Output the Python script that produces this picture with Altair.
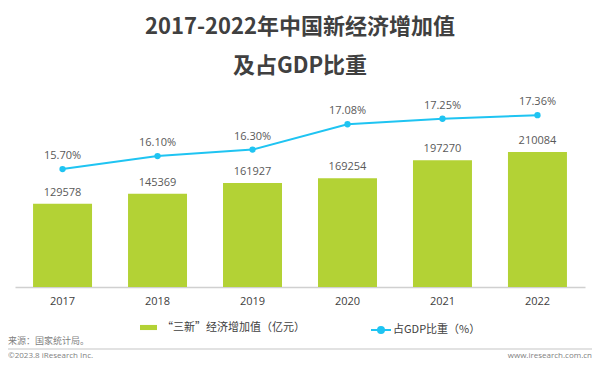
import altair as alt
import pandas as pd

years = ["2017", "2018", "2019", "2020", "2021", "2022"]
added_value = [129578, 145369, 161927, 169254, 197270, 210084]
gdp_share = [15.70, 16.10, 16.30, 17.08, 17.25, 17.36]

bar_name = "“三新”经济增加值（亿元）"
line_name = "占GDP比重（%）"
title_lines = ["2017-2022年中国新经济增加值", "及占GDP比重"]
source_text = "来源：国家统计局。"
footer_left = "©2023.8 iResearch Inc."
footer_right = "www.iresearch.com.cn"

GREEN = "#B3D235"
CYAN = "#1FC4F2"
FONT = "Noto Sans CJK SC"
NUMFONT = "Open Sans"

df = pd.DataFrame({
    "year": years,
    "value": added_value,
    "ratio": gdp_share,
    "bar_s": [bar_name] * len(years),
    "line_s": [line_name] * len(years),
})

x = alt.X("year:N", title=None, sort=years,
          scale=alt.Scale(paddingInner=0.379, paddingOuter=0.19),
          axis=alt.Axis(labelAngle=0, ticks=False, labelPadding=8, labelFontSize=11,
                        labelColor="#404040", labelFont=NUMFONT, domainColor="#D0D0D0",
                        domainWidth=1.5, grid=False))

base = alt.Chart(df)

y_bar = alt.Y("value:Q", axis=None, scale=alt.Scale(domain=[0, 299000], nice=False))
bars = base.mark_bar(color=GREEN).encode(
    x=x, y=y_bar,
    fill=alt.Fill("bar_s:N", scale=alt.Scale(domain=[bar_name], range=[GREEN]),
                  legend=alt.Legend(title=None, orient="none", legendX=125, legendY=224,
                                    symbolType="M-1,-0.3H1V0.3H-1Z", symbolSize=289,
                                    symbolStrokeWidth=0, labelFontSize=11, labelColor="#404040",
                                    labelFont=FONT, labelOffset=5, padding=0)),
)
bar_text = base.mark_text(dy=-11, fontSize=11, color="#595959", font=NUMFONT).encode(
    x=x, y=y_bar, text=alt.Text("value:Q", format="d"))

y_line = alt.Y("ratio:Q", axis=None, scale=alt.Scale(domain=[12.07, 17.98], zero=False, nice=False))
line = base.mark_line(strokeWidth=2).encode(
    x=x, y=y_line,
    stroke=alt.Stroke("line_s:N", scale=alt.Scale(domain=[line_name], range=[CYAN]),
                      legend=alt.Legend(title=None, orient="none", legendX=355, legendY=224,
                                        symbolType="M-1,0H1M-0.3,0A0.3,0.3,0,1,0,0.3,0A0.3,0.3,0,1,0,-0.3,0Z",
                                        symbolSize=400, symbolStrokeWidth=2,
                                        symbolFillColor=CYAN, symbolStrokeColor=CYAN,
                                        labelFontSize=11, labelColor="#404040",
                                        labelFont=FONT, labelOffset=1, padding=0)),
)
points = base.mark_circle(size=40, color=CYAN, opacity=1).encode(x=x, y=y_line)
line_text = base.transform_calculate(
    lbl="format(datum.ratio, '.2f') + '%'"
).mark_text(dy=-13, fontSize=11, color="#595959", font=NUMFONT).encode(
    x=x, y=y_line, text="lbl:N")

src = alt.Chart(pd.DataFrame({"t": [source_text]})).mark_text(
    align="left", baseline="middle", fontSize=9, color="#7F7F7F", font=FONT
).encode(x=alt.value(-7), y=alt.value(246), text="t:N")
sep = alt.Chart(pd.DataFrame({"a": [0]})).mark_rule(color="#D9D9D9", strokeWidth=1.5).encode(
    x=alt.value(-7), x2=alt.value(577), y=alt.value(254))
foot_l = alt.Chart(pd.DataFrame({"t": [footer_left]})).mark_text(
    align="left", baseline="middle", fontSize=8, color="#7F7F7F", font=NUMFONT
).encode(x=alt.value(-7), y=alt.value(261), text="t:N")
foot_r = alt.Chart(pd.DataFrame({"t": [footer_right]})).mark_text(
    align="right", baseline="middle", fontSize=8, color="#7F7F7F", font=NUMFONT
).encode(x=alt.value(577), y=alt.value(261), text="t:N")

chart = alt.layer(bars, bar_text, line, points, line_text, src, sep, foot_l, foot_r).resolve_scale(
    y="independent"
).properties(
    width=570, height=192,
    autosize=alt.AutoSizeParams(type="none"),
    padding={"left": 7, "top": 87, "right": 7, "bottom": 73},
    title=alt.TitleParams(text=title_lines, anchor="middle", fontSize=22, fontWeight="bold",
                          font=FONT, color="#404040", lineHeight=39, offset=17),
).configure_view(stroke=None)

chart.save("out.html", embed_options={"renderer": "svg", "actions": False})
